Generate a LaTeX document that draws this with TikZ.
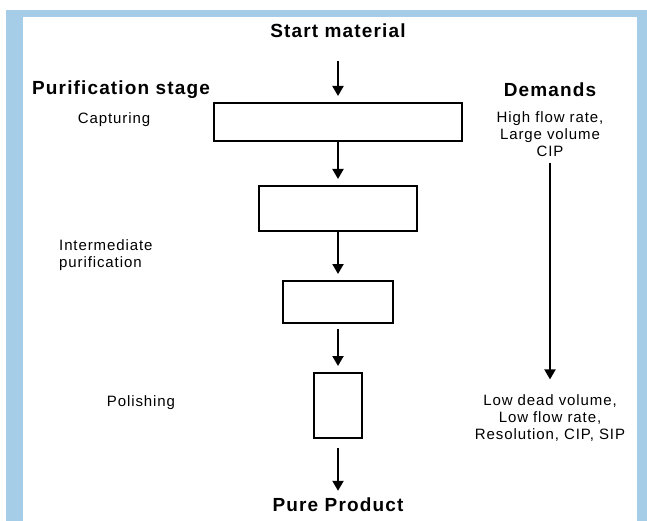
\documentclass[tikz,border=0pt]{standalone}
\usepackage{fontspec}
\setmainfont{Liberation Sans}[LetterSpace=6]
\usepackage{xcolor}
\usetikzlibrary{positioning,arrows.meta}
\definecolor{framebl}{RGB}{165,205,232}

\begin{document}
\begin{tikzpicture}[
  x=1pt, y=-1pt,
  box/.style={draw, line width=2pt, inner sep=0pt},
  head/.style={inner sep=1pt, font=\fontsize{19}{22}\selectfont\bfseries},
  note/.style={inner sep=1pt, align=center, font=\fontsize{15}{17}\selectfont},
  arr/.style={-{Triangle[width=11pt,length=10pt]}, line width=2pt, shorten >=6pt}
]
\useasboundingbox (0,0) rectangle (647,521);
\fill[framebl] (6,10) rectangle (647,521);
\fill[white] (23,17) rectangle (637,521);

\node[head] (start) at (338,31) {Start material};
\node[head] (stage) at (121,90) {Purification stage};
\node[head] (dem) at (550,90) {Demands};

\node[box, minimum width=248pt, minimum height=38pt] (b1) at (338,122) {};
\node[box, below=43pt of b1, minimum width=158pt, minimum height=45pt] (b2) {};
\node[box, below=48pt of b2, minimum width=110pt, minimum height=42pt] (b3) {};
\node[box, below=48pt of b3, minimum width=48pt, minimum height=65pt] (b4) {};
\node[head] (pure) at (338,505) {Pure Product};

\node[note] (cap) at (114,120) {Capturing};
\node[note, anchor=west, align=left] (inter) at (58,255) {Intermediate\\purification};
\node[note] (pol) at (141,403) {Polishing};

\node[note] (hi) at (550,134) {High flow rate,\\Large volume\\CIP};
\node[note] (lo) at (550,418) {Low dead volume,\\Low flow rate,\\Resolution, CIP, SIP};

\draw[arr, shorten <=22pt] (start) -- (b1);
\draw[arr] (b1) -- (b2);
\draw[arr] (b2) -- (b3);
\draw[arr, shorten <=5pt] (b3) -- (b4);
\draw[arr, shorten <=9pt] (b4) -- (pure);
\draw[arr, shorten <=5pt, shorten >=14pt] (hi) -- (lo);
\end{tikzpicture}
\end{document}
